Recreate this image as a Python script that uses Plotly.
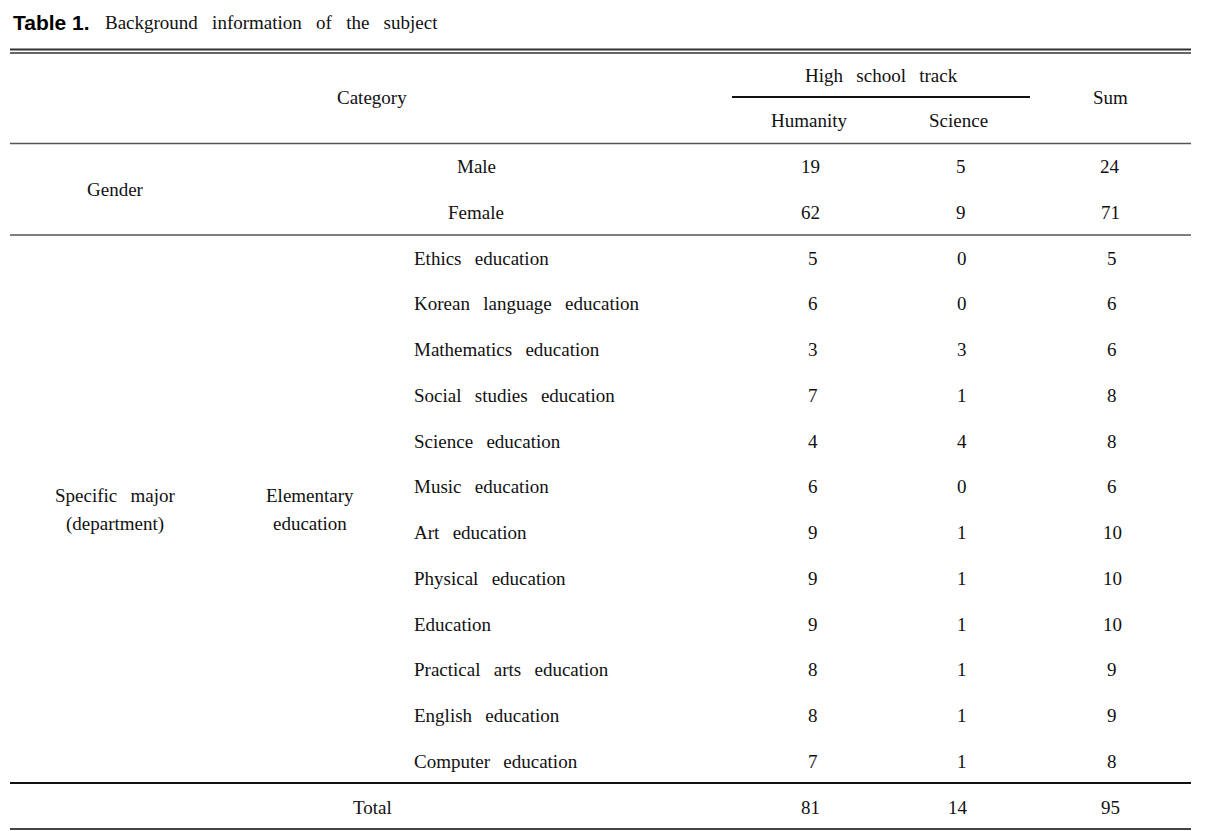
import plotly.graph_objects as go

# ---------------- data ----------------
title_label = "Table 1."
title_text = "Background information of the subject"

col_group = "High school track"
col_labels = ["Humanity", "Science"]
sum_label = "Sum"
category_label = "Category"

gender_group = "Gender"
gender_labels = ["Male", "Female"]
gender_humanity = [19, 62]
gender_science = [5, 9]
gender_sum = [24, 71]

major_group = ["Specific major", "(department)"]
major_subgroup = ["Elementary", "education"]
majors = [
    "Ethics education", "Korean language education", "Mathematics education",
    "Social studies education", "Science education", "Music education",
    "Art education", "Physical education", "Education",
    "Practical arts education", "English education", "Computer education",
]
major_humanity = [5, 6, 3, 7, 4, 6, 9, 9, 9, 8, 8, 7]
major_science = [0, 0, 3, 1, 4, 0, 1, 1, 1, 1, 1, 1]
major_sum = [5, 6, 6, 8, 8, 6, 10, 10, 10, 9, 9, 8]

total_label = "Total"
total_values = [81, 14, 95]

# ---------------- layout helpers ----------------
W, H = 1211, 831
OFF = 8  # page body margin
FONT = "Liberation Serif, Times New Roman, serif"
FS = 19
COLOR = "#111111"
GAP = " \u00a0\u2009"

def sp(s, gap=GAP):
    return s.replace(" ", gap)

row0 = 75.0
pitch = (807.0 - 75.0) / 16.0
def ry(k):
    return row0 + pitch * k

X_CAT = 372
X_GENDER = 115
X_SUB = 310
X_ITEM = 412
X_GITEM = 476
X_HUM = 812
X_SCI = 961
X_SUM = 1111
X_L, X_R = 10, 1191

annotations = []
def txt(x, y, s, anchor="center", size=FS, family=FONT, color=COLOR):
    annotations.append(dict(x=x, y=y, xref="x", yref="y", text=s, showarrow=False,
                            xanchor=anchor, yanchor="middle",
                            font=dict(family=family, size=size, color=color)))

# title
annotations.append(dict(x=11, y=22, xref="x", yref="y", text="<b>" + title_label + "</b>",
                        showarrow=False, xanchor="left", yanchor="middle",
                        font=dict(family="Liberation Sans, Arial, sans-serif", size=21, color="#000")))
txt(103, 22, sp(title_text, " \u00a0\u00a0"), anchor="left", size=19)

# header
txt(X_CAT, (ry(0) + ry(1)) / 2, category_label)
txt((732 + 1030) / 2, ry(0), sp(col_group))
txt(X_HUM - 3, ry(1), col_labels[0])
txt(X_SCI - 3, ry(1), col_labels[1])
txt(X_SUM - 1, (ry(0) + ry(1)) / 2, sum_label)

# gender block
txt(X_GENDER, (ry(2) + ry(3)) / 2, gender_group)
for i, lab in enumerate(gender_labels):
    y = ry(2 + i)
    txt(X_GITEM, y, lab)
    txt(X_HUM - 2, y, str(gender_humanity[i]))
    txt(X_SCI, y, str(gender_science[i]))
    txt(X_SUM - 1, y, str(gender_sum[i]))

# majors block
mid = (ry(4) + ry(4 + len(majors) - 1)) / 2
txt(X_GENDER, mid - 14, sp(major_group[0]))
txt(X_GENDER, mid + 14, major_group[1])
txt(X_SUB, mid - 14, major_subgroup[0])
txt(X_SUB, mid + 14, major_subgroup[1])
for i, lab in enumerate(majors):
    y = ry(4 + i)
    txt(X_ITEM, y, sp(lab), anchor="left")
    txt(X_HUM + 1, y, str(major_humanity[i]))
    txt(X_SCI + 1, y, str(major_science[i]))
    txt(X_SUM + 1, y, str(major_sum[i]))

# total
yt = ry(16)
txt(X_CAT, yt, total_label)
txt(X_HUM - 2, yt, str(total_values[0]))
txt(X_SCI - 3, yt, str(total_values[1]))
txt(X_SUM - 1, yt, str(total_values[2]))

# rules
shapes = []
def hline(y, x0=X_L, x1=X_R, w=1.6, c="#333333"):
    shapes.append(dict(type="line", xref="x", yref="y", x0=x0, x1=x1, y0=y, y1=y,
                       line=dict(color=c, width=w)))

hline(49.5, w=2)
hline(53, w=1.6)
hline(97, 732, 1030, w=1.8, c="#111111")
hline(143.5, w=1.6, c="#555555")
hline(235, w=1.6, c="#555555")
hline(783, w=1.8, c="#111111")
hline(829, w=2, c="#444444")

fig = go.Figure()
fig.add_trace(go.Scatter(x=[OFF, W], y=[OFF, H], mode="markers", marker=dict(opacity=0),
                         hoverinfo="skip", showlegend=False))
fig.update_layout(
    width=W - OFF, height=H - OFF, margin=dict(l=0, r=0, t=0, b=0),
    paper_bgcolor="white", plot_bgcolor="white",
    xaxis=dict(range=[OFF, W], visible=False, fixedrange=True),
    yaxis=dict(range=[H, OFF], visible=False, fixedrange=True),
    annotations=annotations, shapes=shapes, showlegend=False,
)
fig.write_html("out.html")
